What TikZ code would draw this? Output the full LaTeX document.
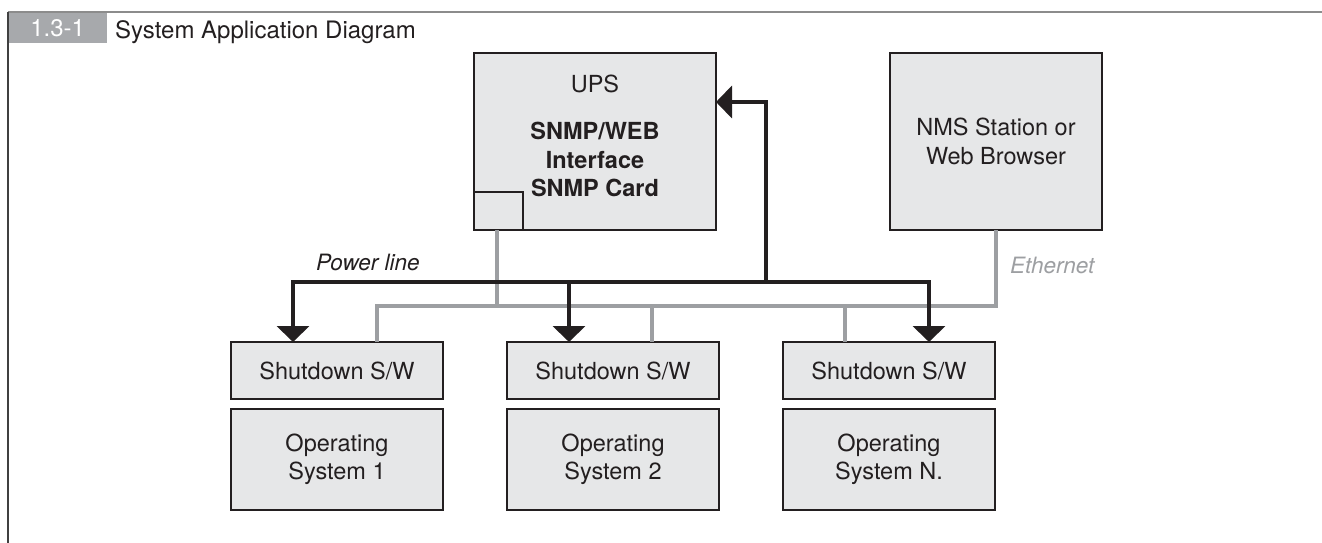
\documentclass[tikz,border=0pt]{standalone}
\usepackage{fontspec}
\setmainfont{TeX Gyre Heros}
\usetikzlibrary{positioning,arrows.meta}
\definecolor{inkblack}{HTML}{231F20}
\definecolor{boxgray}{HTML}{E6E7E8}
\definecolor{wiregray}{HTML}{9D9FA2}
\definecolor{tabgray}{HTML}{A7A9AC}

\begin{document}
\begin{tikzpicture}[x=1pt, y=-1pt,
        node distance=10pt and 64pt,
        box_style/.style={draw=inkblack, fill=boxgray, line width=1.8pt, inner sep=0pt, outer sep=0pt, align=center, text=inkblack, font=\fontsize{23.5}{28.5}\selectfont},
        sw_style/.style={box_style, minimum width=212pt, minimum height=57pt},
        os_style/.style={box_style, minimum width=212pt, minimum height=101pt},
        eth_style/.style={draw=wiregray, line width=3.8pt},
        pwr_style/.style={draw=inkblack, line width=4.2pt, -{Triangle[width=32pt,length=16pt]}},
        note_style/.style={inner sep=0pt, font=\fontsize{22.5}{27}\selectfont\itshape}
    ]
    \useasboundingbox (0,0) rectangle (1322,543);

    % Heading
    \node[fill=tabgray, text=white, minimum width=99pt, minimum height=30pt, inner sep=0pt, anchor=north west, font=\fontsize{24}{28}\selectfont] (tab) at (8,13) {1.3-1};
    \node[anchor=base west, inner sep=0pt, text=inkblack, font=\fontsize{24}{28}\selectfont] (title) at (115,39) {System Application Diagram};
    \draw[line width=1.3pt, draw=black!45] (8,12) -- (1322,12);
    \draw[line width=2pt, draw=black!75] (8,12) -- (8,543);

    % UPS and NMS
    \node[box_style, minimum width=242pt, minimum height=177pt, text depth=12pt] (ups) at (595,141.5) {UPS\\[19pt]\textbf{SNMP/WEB}\\\textbf{Interface}\\\textbf{SNMP Card}};
    \node[box_style, minimum width=212pt, minimum height=177pt] (nms) at (996,141.5) {NMS Station or\\Web Browser};

    % Card slot
    \draw[line width=1.3pt, draw=inkblack] ([yshift=38pt]ups.south west) -| ([xshift=49pt]ups.south west);

    % Shutdown S/W
    \node[sw_style] (sw1) at (337,370.5) {Shutdown S/W};
    \node[sw_style, right=of sw1] (sw2) {Shutdown S/W};
    \node[sw_style, right=of sw2] (sw3) {Shutdown S/W};

    % Operating systems
    \node[os_style, below=of sw1] (os1) {Operating\\System 1};
    \node[os_style, below=of sw2] (os2) {Operating\\System 2};
    \node[os_style, below=of sw3] (os3) {Operating\\System N.};

    % Ethernet
    \coordinate (ebus) at (0,306);
    \draw[eth_style] ([xshift=-98pt]ups.south) -- ([xshift=-98pt]ups.south |- ebus);
    \draw[eth_style] ([xshift=40pt]sw1.north) |- (ebus -| nms.south) -- (nms.south);
    \draw[eth_style] ([xshift=39pt]sw2.north) -- ([xshift=39pt]sw2.north |- ebus);
    \draw[eth_style] ([xshift=-44pt]sw3.north) -- ([xshift=-44pt]sw3.north |- ebus);
    \node[note_style, text=wiregray, anchor=base west] (ethlbl) at (1010,273) {Ethernet};

    % Power line
    \coordinate (riser) at (766,282);
    \draw[pwr_style] (riser) -| ([xshift=-44pt]sw1.north);
    \draw[pwr_style] (riser) -| ([xshift=40pt]sw3.north);
    \draw[pwr_style] ([xshift=-44pt]sw2.north |- riser) -- ([xshift=-44pt]sw2.north);
    \draw[pwr_style] (riser) |- ([yshift=39.5pt]ups.east);
    \node[note_style, text=inkblack, anchor=base west] (pwrlbl) at (316,270) {Power line};

\end{tikzpicture}
\end{document}
